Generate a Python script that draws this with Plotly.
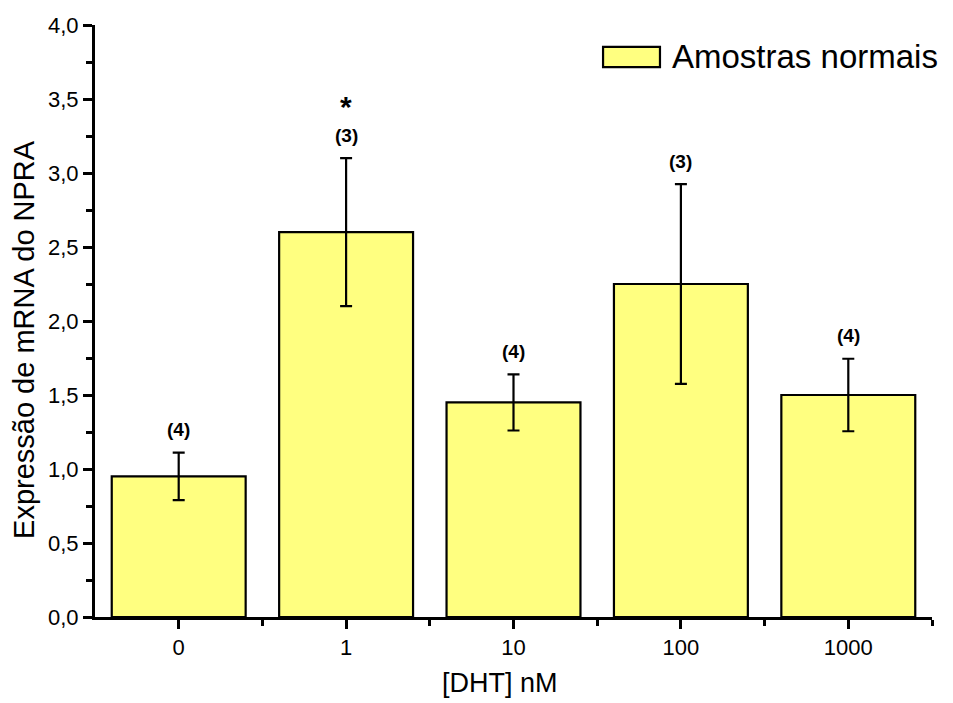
import plotly.graph_objects as go

categories = ["0", "1", "10", "100", "1000"]
means = [0.95, 2.6, 1.45, 2.25, 1.5]
errors = [0.16, 0.5, 0.19, 0.675, 0.245]
n_labels = ["(4)", "(3)", "(4)", "(3)", "(4)"]
sig_marks = ["", "*", "", "", ""]
y_ticks = [0.0, 0.5, 1.0, 1.5, 2.0, 2.5, 3.0, 3.5, 4.0]
series_name = "Amostras normais"
x_title = "[DHT] nM"
y_title = "Expressão de mRNA do NPRA"

FONT = "Arial, Liberation Sans, sans-serif"
FILL = "#FFFF80"
xs = list(range(len(categories)))

fig = go.Figure()
fig.add_trace(go.Bar(
    x=xs, y=means, width=0.8, name=series_name,
    marker=dict(color=FILL, line=dict(color="black", width=2.2)),
    error_y=dict(type="data", array=errors, visible=True,
                 color="black", thickness=2.2, width=6),
    showlegend=False,
))

annotations = []
for i in xs:
    top = means[i] + errors[i]
    annotations.append(dict(x=i, y=top, text="<b>%s</b>" % n_labels[i],
                            showarrow=False, yshift=23, yanchor="middle",
                            font=dict(family=FONT, size=19, color="black")))
    if sig_marks[i]:
        annotations.append(dict(x=i, y=top, text="<b>%s</b>" % sig_marks[i],
                                showarrow=False, yshift=52, yanchor="middle",
                                font=dict(family=FONT, size=30, color="black")))

# axis titles as annotations (offset like the reference)
annotations.append(dict(xref="paper", yref="paper", x=0.4833, y=-0.1115,
                        text=x_title, showarrow=False,
                        xanchor="center", yanchor="middle",
                        font=dict(family=FONT, size=27, color="black")))
annotations.append(dict(xref="paper", yref="paper", x=-0.0848, y=0.468,
                        text=y_title, showarrow=False, textangle=-90,
                        xanchor="center", yanchor="middle",
                        font=dict(family=FONT, size=29, color="black")))

# legend drawn manually
annotations.append(dict(xref="paper", yref="paper", x=0.687, y=0.947,
                        text=series_name, showarrow=False,
                        xanchor="left", yanchor="middle",
                        font=dict(family=FONT, size=33, color="black")))
shapes = [dict(type="rect", xref="paper", yref="paper",
               x0=0.607, x1=0.675, y0=0.929, y1=0.963,
               fillcolor=FILL, line=dict(color="black", width=2.2))]

fig.update_layout(
    width=953, height=703,
    margin=dict(l=95, r=21, t=25, b=86),
    plot_bgcolor="white", paper_bgcolor="white",
    separators=",.",
    font=dict(family=FONT, color="black"),
    annotations=annotations, shapes=shapes,
    xaxis=dict(
        range=[-0.5, 4.5], tickmode="array", tickvals=xs, ticktext=categories,
        automargin=False,
        showline=True, linecolor="black", linewidth=3,
        ticks="outside", ticklen=9, tickwidth=3, tickcolor="black",
        showgrid=False, zeroline=False,
        tickfont=dict(family=FONT, size=22),
        minor=dict(tickmode="array", tickvals=[x + 0.5 for x in xs],
                   ticks="outside", ticklen=6, tickwidth=3, tickcolor="black"),
    ),
    yaxis=dict(
        range=[0, 4.0], tickmode="array", tickvals=y_ticks, tickformat=".1f",
        automargin=False,
        showline=True, linecolor="black", linewidth=3,
        ticks="outside", ticklen=9, tickwidth=3, tickcolor="black",
        showgrid=False, zeroline=False,
        tickfont=dict(family=FONT, size=22),
        minor=dict(tickmode="linear", tick0=0.25, dtick=0.5,
                   ticks="outside", ticklen=6, tickwidth=3, tickcolor="black"),
    ),
)

fig.write_html("out.html", config={"displayModeBar": False},
               post_script="document.body.style.margin='0px';")
